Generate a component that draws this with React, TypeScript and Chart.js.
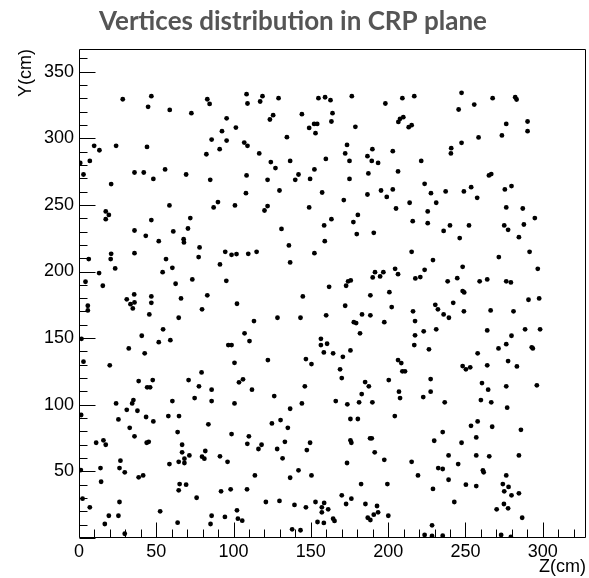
import React, { useEffect, useRef } from "react";
import { Chart, registerables } from "chart.js";

Chart.register(...registerables);

const TITLE = "Vertices distribution in CRP plane";
const X_TITLE = "Z(cm)";
const Y_TITLE = "Y(cm)";
const X_MIN = 0;
const X_MAX = 328;
const Y_MIN = 0;
const Y_MAX = 367;
const MAJOR_STEP = 50;
const MINOR_STEP = 10;

// vertex positions: [Z, Y] in cm
const vertices: number[][] = [
  [28.3,329.3],[46.8,331.6],[44.7,323.6],[58.7,321.3],[72.7,318.8],[83,329.3],[84.5,325.8],[108.4,333.1],[109,326.1],[95.5,315],[101.5,308],[92.5,305.3],[85.8,299],[95.5,298.3],[91,291.8],[82.4,288],[106.9,296.8],[109,294.3],[9.8,294.3],[13.2,291],[24,294.3],[44,293.5],[0.8,281.5],[7,283],[2.9,272.8],[35.9,274.3],[41.9,274.3],[48.1,269.5],[55.7,276.6],[69.3,272.8],[84.9,268.8],[108.4,272.1],[20.8,265.6],[108,258.8],[58.5,249.6],[87.1,248.1],[89.9,252.1],[100.9,249.6],[17.3,245.1],[19.3,242.5],
  [118.7,331.6],[117.2,327.6],[129.1,330.1],[154.9,330.1],[159.2,330.8],[162.7,328.6],[176.5,331.6],[198.2,326.1],[209.2,330.1],[216.9,331.6],[125.6,317.3],[123.5,314.1],[144.2,318.1],[164,318.8],[163.3,312.6],[148.9,307.8],[152.1,310.8],[154.1,310.8],[153,303.8],[178.8,308.6],[134.5,300.8],[206.6,312.3],[207.7,314.6],[209.8,315.8],[213.3,308.3],[215.2,309.8],[116.6,288.6],[124.1,282.1],[127.1,277.6],[136.6,283],[159.7,284.5],[173.4,295],[172.2,288.6],[175,283],[189.8,291.8],[186.6,286.6],[189.4,283],[193.5,281.5],[203,290.3],[152.3,276.6],[142,272.8],[139.9,268.8],[149.5,269.5],[122,268.8],[175,269.5],[187.2,273.6],[206.4,275.1],[129.7,260.8],[157.3,259.3],[171.3,253.6],[186.6,257.8],[195.4,260.8],[199.1,256],[203,261.6],[213.9,251.6],[205.1,247.3],[122,249.1],[120,245.8],[148.9,248.1],[180.4,242.5],
  [247.5,334.1],[245.6,321.6],[255.7,325.3],[267.6,330.1],[282.2,330.8],[283.1,329.1],[276.4,310.8],[290.2,312.6],[290.2,305.3],[273.6,302.1],[258.5,300.6],[247.5,296.6],[240.8,292.6],[240.6,288.6],[221.4,283],[265.2,272.1],[266.7,273.1],[223.6,265.8],[227.7,258.8],[237.2,260.1],[249,260.1],[253.7,263.3],[257.6,255.3],[275.5,261.6],[279.8,264.1],[231.1,251.6],[225.6,245.1],[276.4,248.1],[287.1,247.3],
  [17.3,239.3],[46.8,238.6],[72,240.1],[35.9,230.8],[43.2,226.8],[51.6,222.8],[61,230.1],[70.5,232.3],[67.7,224.3],[67.9,221.8],[78,218.1],[77.4,210.8],[20.8,213.3],[20.5,209.3],[6.3,209.3],[35.9,213.8],[23.4,202.3],[13,198.8],[4.2,192.3],[15.4,189.3],[56.3,209.3],[60.4,202.8],[54.1,199.5],[62.5,190.8],[73.3,194.1],[94.6,214.8],[98.7,212.5],[101.9,213.1],[109.5,213.3],[91.2,205.3],[95.3,193],[83,182.1],[102.2,175.8],[35.7,182.8],[30.9,179.1],[33.3,175.5],[35.9,176.8],[34.8,172.3],[46.8,181.3],[46.8,176.5],[45.5,167.8],[66,179.8],[64.5,165.3],[79.6,171.6],[5.7,174.3],[5.7,170.8],[54.4,156.6],[40.6,151.8],[51.6,147],[59.1,148.5],[1.6,149.5],[32.2,142.3],[42.5,138.6],[96.6,144.8],[98.7,144.8],[107.1,153.6],[110.3,147.8],[100.6,131.5],[2.9,132.3],[19.9,129.6],[79.3,124.3],
  [163.3,239.3],[158.6,234.6],[177.5,237.1],[131,232],[179.7,228.1],[190.7,229],[215.9,237.8],[159,222.8],[135.8,219.6],[152.3,213.8],[114.9,214.8],[136.6,206.8],[215.2,214.8],[191.5,199.5],[196.9,199.5],[190,195.6],[194.8,196.3],[204.5,202],[206.4,198],[217.6,194.8],[175.8,193.3],[174.1,192.6],[172.8,189.3],[161.8,188.5],[144.8,181.3],[188.5,182.1],[200.8,184.5],[172.2,174.3],[202.3,173.3],[216.1,170.1],[113.2,162.8],[128.4,165.3],[143.3,165.3],[159.9,167.1],[183.1,167.8],[188.5,167.1],[177.8,162],[179.3,161.3],[197.5,162],[217.4,162.8],[181.8,153.6],[217.4,152.1],[156.5,149.5],[156.5,144.8],[160.5,145.8],[158.4,139.3],[164.4,138.6],[170.7,136],[175.6,140.8],[216.9,144.8],[122.2,133.5],[146.8,134.3],[150.4,130.5],[206.4,133.5],[208.5,131.3],[209.2,125.1],[210.9,125.1],[168.9,126.6],
  [225.6,236.3],[240,234.6],[235.9,230.5],[252.3,234.6],[246.3,225.1],[275.1,234.6],[277.6,231.3],[287.8,235.3],[294.9,240.1],[284.6,225.8],[291.5,214.8],[271.6,210.8],[296.8,202],[229,208.6],[223.6,201.3],[220.8,195.8],[248.2,203.5],[238.5,192.6],[244.7,195],[259.2,192.6],[264.1,194.1],[276.4,192.6],[279.4,191.8],[248.2,185.3],[249.2,184.3],[242.1,176.5],[230.5,175],[232.2,171.6],[235.9,167.8],[239.3,165.3],[249,170.1],[266.3,170.8],[281.1,170.1],[290.8,178.8],[297.7,179.8],[223,155.1],[231.1,156.6],[264.1,155.8],[279.8,151.8],[288.6,156.6],[298.3,156.6],[276.4,145.5],[271.4,142.3],[292.9,143.1],[293.6,142.3],[226.4,141.6],[257.9,138.6],[248.2,129],[250.3,126.6],[253.1,128.1],[264.1,129.6],[277.6,132.8],[283.3,128.8],
  [38.6,117.8],[47.7,118.5],[44.1,113.1],[46,113.1],[70.9,118.5],[77.6,113.8],[85.8,111.3],[103.5,116.8],[106.1,119.1],[24,101],[35.2,103.5],[34.4,101],[30.9,96.2],[37.8,95.5],[60.4,102.8],[74.8,105],[85.8,102.8],[100.6,101],[1.4,92.3],[25.5,89],[43.4,90.8],[48.1,87.5],[57.8,91.5],[64.7,91.5],[83.7,85.3],[32.8,82.7],[35.9,76.3],[63.8,79.5],[98.7,78],[109.9,76.3],[108.9,70.7],[11.1,71.5],[15.8,73.3],[17.3,70],[43.8,71.5],[45.1,72.2],[66.7,70],[66.7,64.3],[71.4,62],[68.2,59.5],[64.5,57.2],[68.2,56.3],[58.5,55.5],[81.7,65.3],[79.6,61],[81.1,59.5],[91.2,61.3],[96.1,57.2],[1.2,51],[13.9,52.5],[26.8,58],[26.2,52.5],[29.6,49.3],[38.6,45.5],[41.5,47],[14.3,42.2],[65.1,40.5],[69.3,40],[64.5,35.8],[91.9,35],[98.1,36.5],[108.7,36.5],[76.1,30.2],[2.3,29.5],[7,23],[26.2,27],[25.5,16.7],[52.5,20],[19.3,16.7],[16.7,10.5],[63.8,11.5],[85.8,16.7],[85.1,10.5],[94.4,15.8],[102.2,20.8],[102.8,14.5],[105.6,13],[29.6,3.2],
  [111.9,111.3],[126.3,106.5],[146.1,113.8],[170,120],[185.1,117],[187.5,113.8],[200.4,118.5],[182.9,108],[207,109.8],[207.7,105],[136.6,97],[144.2,101],[166.1,102.8],[173.6,100.3],[181.2,101.8],[189.8,101.8],[204.3,91.5],[124.8,86],[130.4,88.5],[135.1,82.7],[175.6,89.3],[180.4,89.3],[118.1,70],[116.1,66.8],[128.2,66.8],[133.2,72.2],[149.5,71.5],[147.4,66],[175.6,73.3],[176.2,71.5],[188.3,74.8],[189.4,74.8],[191.3,64.3],[131.7,59.8],[173.4,56.3],[197.5,58.7],[215.2,57.2],[113.8,47],[136.6,45.2],[142,50.8],[150.4,47],[219.3,47],[182.5,40.5],[199.5,40.5],[120.9,27],[129.7,27.8],[139.4,24.8],[146.8,23],[153,27],[157.1,23],[158.6,26.3],[161.2,21.5],[157.1,19.3],[170,32],[172.8,25.5],[176.2,29.5],[185.3,25.5],[192.8,24],[193.5,19.3],[190.7,17.5],[186.8,15.2],[188.5,13.5],[164.4,14.5],[165.3,12.8],[154.3,12],[158.4,11.3],[200.1,16.7],[137.9,6.5],[143.3,5.8],
  [227.5,119.3],[227.5,109.8],[222.7,105.8],[236.6,101.8],[260.7,116.3],[264.7,111.3],[276.4,113.8],[296.2,114.6],[260,103.5],[266.7,101.8],[277,97.8],[257.9,87.5],[253.6,84.2],[267.3,83.5],[285.9,81.2],[235.3,79.5],[257,75.5],[229.8,73],[247.5,71.5],[239.1,62],[257,62],[265.4,61.3],[284.6,62],[245.3,55.5],[232.4,52.5],[235.3,51.8],[261.3,50.8],[261.8,49.3],[239.1,43.7],[276.4,47],[250.3,40],[257,39],[274.2,40.5],[277.9,38.3],[229,36.8],[275.1,35],[279.8,32],[284.6,33.5],[242.8,27],[274.9,25.5],[270.2,21.5],[277.6,22.3],[286.7,15.2],[228.4,9.5],[223.6,2.3],[228.4,1.5],[235.3,1.7],[273.1,2.3],[279.4,0.8],
];

const TICK_FONT = '"Liberation Sans", Arial, Helvetica, sans-serif';

const frameAndTicks = {
  id: "frameAndTicks",
  afterDatasetsDraw(chart: any) {
    const { ctx, chartArea: a, scales } = chart;
    const xs = scales.x;
    const ys = scales.y;
    const L = Math.round(a.left) + 0.5;
    const R = Math.round(a.right) - 0.5;
    const T = Math.round(a.top) + 0.5;
    const B = Math.round(a.bottom) - 0.5;
    ctx.save();
    ctx.strokeStyle = "#000";
    ctx.lineWidth = 1;
    ctx.beginPath();
    ctx.rect(L, T, R - L, B - T);
    ctx.stroke();
    ctx.beginPath();
    for (let v = X_MIN; v <= X_MAX; v += MINOR_STEP) {
      const px = Math.round(xs.getPixelForValue(v)) + 0.5;
      const len = v % MAJOR_STEP === 0 ? 15 : 8;
      ctx.moveTo(px, B);
      ctx.lineTo(px, B - len);
    }
    for (let v = Y_MIN; v <= Y_MAX; v += MINOR_STEP) {
      const py = Math.round(ys.getPixelForValue(v)) + 0.5;
      const len = v % MAJOR_STEP === 0 ? 16 : 8;
      ctx.moveTo(L, py);
      ctx.lineTo(L + len, py);
    }
    ctx.stroke();
    ctx.fillStyle = "#000";
    ctx.font = `18px ${TICK_FONT}`;
    ctx.textAlign = "right";
    ctx.textBaseline = "alphabetic";
    ctx.fillText(X_TITLE, a.right, 572);
    ctx.translate(31, a.top);
    ctx.rotate(-Math.PI / 2);
    ctx.textAlign = "right";
    ctx.fillText(Y_TITLE, 0, 0);
    ctx.restore();
  },
};

export default function App() {
  const ref = useRef<HTMLCanvasElement | null>(null);
  useEffect(() => {
    if (!ref.current) return;
    const chart = new Chart(ref.current, {
      type: "scatter",
      data: {
        datasets: [
          {
            label: "vertices",
            data: vertices.map(([z, y]) => ({ x: z, y })),
            pointRadius: 2.4,
            pointHoverRadius: 2.4,
            pointStyle: "circle",
            backgroundColor: "#000",
            borderWidth: 0,
          },
        ],
      },
      options: {
        responsive: false,
        animation: false,
        events: [],
        layout: { padding: { left: 0, right: 3, top: 0, bottom: 0 } },
        plugins: {
          legend: { display: false },
          tooltip: { enabled: false },
          title: {
            display: true,
            text: TITLE,
            color: "#555555",
            font: { family: "Lato", size: 26, weight: "bold", lineHeight: 1.2 },
            padding: { top: 6.5, bottom: 11.3 },
          },
        },
        scales: {
          x: {
            type: "linear",
            min: X_MIN,
            max: X_MAX,
            grid: { display: false, drawTicks: false },
            border: { display: false },
            ticks: {
              stepSize: MAJOR_STEP,
              includeBounds: false,
              autoSkip: false,
              maxRotation: 0,
              padding: 3,
              color: "#000",
              font: { family: TICK_FONT, size: 18 },
            },
            afterFit: (s: any) => {
              s.height = 40;
            },
          },
          y: {
            type: "linear",
            min: Y_MIN,
            max: Y_MAX,
            grid: { display: false, drawTicks: false },
            border: { display: false },
            ticks: {
              stepSize: MAJOR_STEP,
              includeBounds: false,
              autoSkip: false,
              padding: 5,
              color: "#000",
              font: { family: TICK_FONT, size: 18 },
              callback: (v: any) => (Number(v) === 0 ? "" : String(v)),
            },
            afterFit: (s: any) => {
              s.width = 79;
            },
          },
        },
      },
      plugins: [frameAndTicks],
    });
    return () => chart.destroy();
  }, []);
  return (
    <div style={{ position: "fixed", left: 0, top: 0, width: 589, height: 578, background: "#fff" }}>
      <canvas ref={ref} width={589} height={578} />
    </div>
  );
}
